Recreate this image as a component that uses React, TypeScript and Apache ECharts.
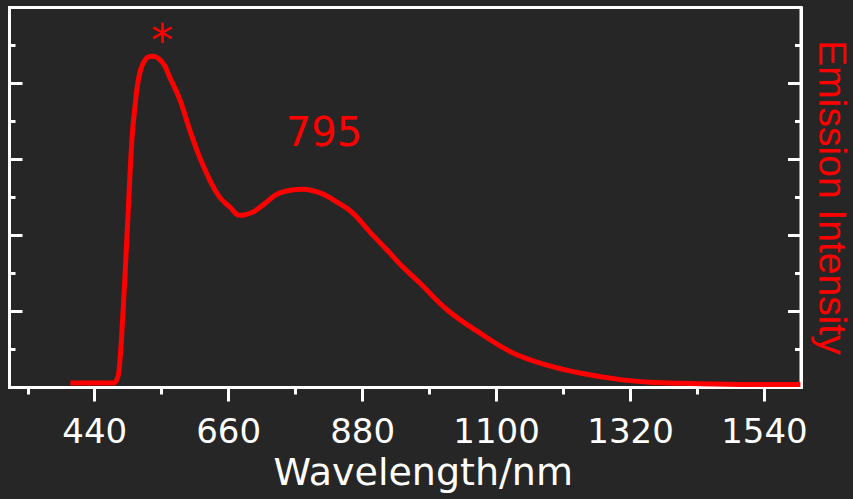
import React, { useEffect, useRef } from "react";
import * as echarts from "echarts";

const wavelengths = [400, 471, 476, 480, 486, 493, 501, 506, 514, 525, 536, 552, 563, 580, 596, 612, 629, 645, 662, 678, 700, 716, 744, 782, 810, 838, 864, 892, 920, 946, 974, 1019, 1073, 1127, 1183, 1237, 1298, 1352, 1407, 1517, 1599];
const intensity = [0.12, 0.12, 0.2, 0.45, 1.86, 3.99, 6.51, 7.38, 8.28, 8.67, 8.72, 8.54, 8.17, 7.57, 6.78, 6.07, 5.46, 5.01, 4.75, 4.53, 4.62, 4.8, 5.12, 5.22, 5.12, 4.88, 4.59, 4.09, 3.62, 3.17, 2.75, 2.04, 1.43, 0.91, 0.59, 0.38, 0.22, 0.14, 0.11, 0.08, 0.08];
const majorTicks = [440, 660, 880, 1100, 1320, 1540];
const minorTicks = [330, 550, 770, 990, 1210, 1430];

const RED = "#ff0000";
const WHITE = "#ffffff";
const BG = "#262626";

export default function App() {
  const ref = useRef<HTMLDivElement>(null);
  useEffect(() => {
    if (!ref.current) return;
    const chart = echarts.init(ref.current, null, { renderer: "svg" });
    const yAxisBase = {
      type: "value",
      min: 0,
      max: 10,
      interval: 2,
      axisLine: { show: true, lineStyle: { color: WHITE, width: 3 } },
      axisTick: { show: true, inside: true, length: 13, lineStyle: { color: WHITE, width: 3 } },
      minorTick: { show: true, splitNumber: 2, length: 6, lineStyle: { color: WHITE, width: 3 } },
      axisLabel: { show: false },
      splitLine: { show: false },
      minorSplitLine: { show: false },
    };
    chart.setOption({
      animation: false,
      backgroundColor: BG,
      grid: {
        left: 9.5,
        right: 52,
        top: 7.5,
        bottom: 111.5,
        show: true,
        borderColor: WHITE,
        borderWidth: 3,
        containLabel: false,
        outerBoundsMode: "none",
      },
      xAxis: [
        {
          type: "value",
          min: 300,
          max: 1600,
          axisLine: { show: true, onZero: false, lineStyle: { color: WHITE, width: 3 } },
          axisTick: { show: true, inside: false, length: 14, customValues: majorTicks, lineStyle: { color: WHITE, width: 3 } },
          axisLabel: {
            show: true,
            customValues: majorTicks,
            formatter: (v: number) => String(v),
            color: WHITE,
            fontFamily: "DejaVu Sans",
            fontSize: 34,
            margin: 26,
          },
          splitLine: { show: false },
          name: "Wavelength/nm",
          nameLocation: "middle",
          nameGap: 65,
          nameTextStyle: { color: WHITE, fontFamily: "DejaVu Sans", fontSize: 38, padding: [0, 0, 0, 36] },
        },
        {
          type: "value",
          min: 300,
          max: 1600,
          position: "bottom",
          axisLine: { show: false },
          axisTick: { show: true, inside: false, length: 7, customValues: minorTicks, lineStyle: { color: WHITE, width: 3 } },
          axisLabel: { show: false },
          splitLine: { show: false },
        },
      ],
      yAxis: [
        { ...yAxisBase, position: "left" },
        {
          ...yAxisBase,
          position: "right",
          name: "Emission Intensity",
          nameLocation: "middle",
          nameRotate: -90,
          nameGap: 12,
          nameTextStyle: { color: RED, fontFamily: "Liberation Sans", fontSize: 39 },
        },
      ],
      series: [
        {
          type: "line",
          xAxisIndex: 0,
          yAxisIndex: 0,
          data: wavelengths.map((w, i) => [w, intensity[i]]),
          showSymbol: false,
          smooth: 0.4,
          lineStyle: { color: RED, width: 5 },
          clip: false,
        },
      ],
      graphic: [
        {
          type: "text",
          x: 162,
          y: 40,
          style: { text: "*", fill: RED, fontFamily: "DejaVu Sans", fontSize: 44, align: "center", verticalAlign: "middle" },
        },
        {
          type: "text",
          x: 324,
          y: 132,
          style: { text: "795", fill: RED, fontFamily: "DejaVu Sans", fontSize: 40, align: "center", verticalAlign: "middle" },
        },
      ],
    });
    return () => chart.dispose();
  }, []);
  return <div ref={ref} style={{ position: "fixed", left: 0, top: 0, width: 853, height: 499 }} />;
}
